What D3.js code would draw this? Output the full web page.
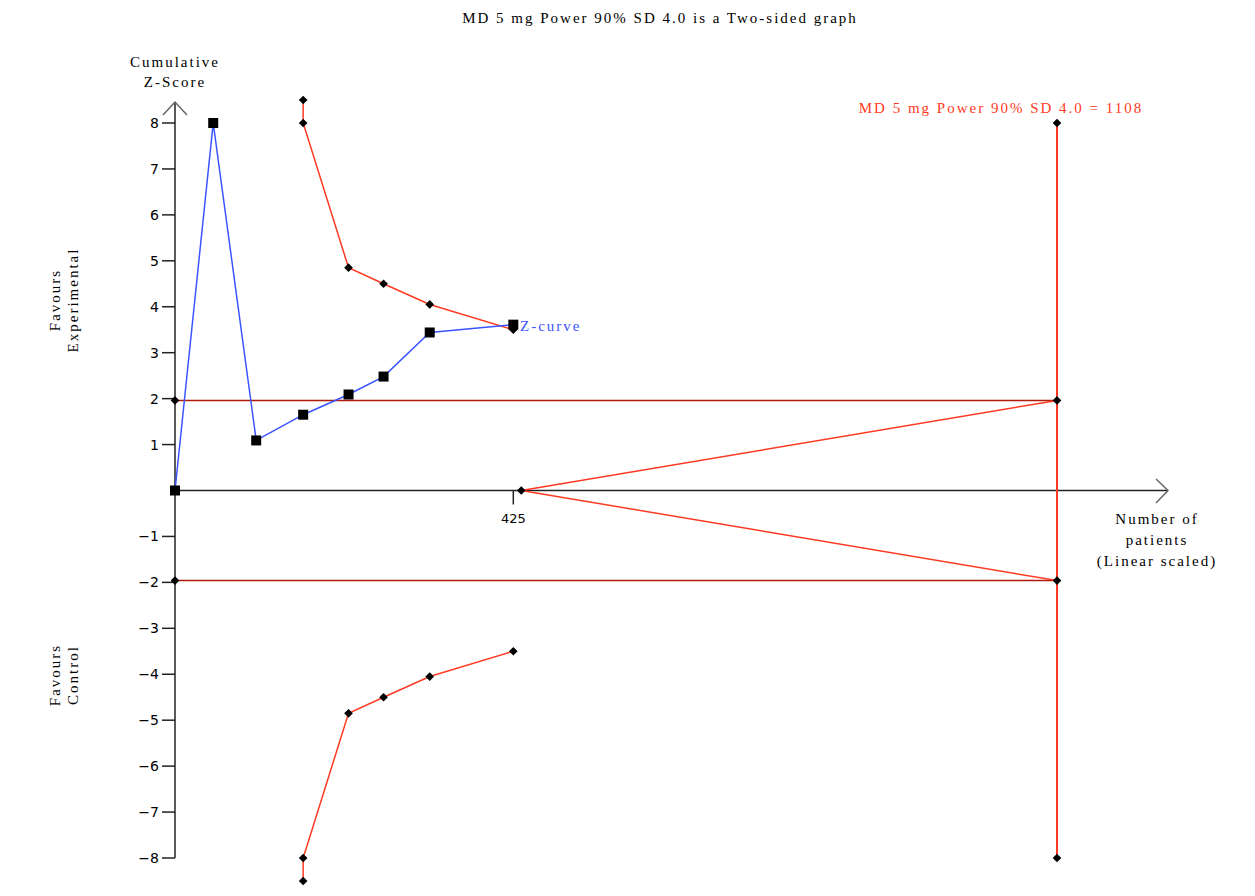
<!DOCTYPE html>
<html>
<head>
<meta charset="utf-8">
<script src="https://cdn.jsdelivr.net/npm/d3@7"></script>
<style>
  body { margin: 0; background: #fff; }
  text { font-family: "Liberation Serif", "DejaVu Serif", serif; }
  text.lbl { font-size: 15px; letter-spacing: 2px; }
</style>
</head>
<body>
<div id="chart"></div>
<script>
// cumulative z-curve (patients, z)
var zPatients = [0, 48, 102, 161, 218, 262, 320, 425];
var zScores   = [0, 8, 1.09, 1.65, 2.09, 2.48, 3.44, 3.61];

// monitoring boundary (upper, lower is the mirror)
var bPatients = [161, 161, 218, 262, 320, 425];
var bUpper    = [8.5, 8, 4.85, 4.5, 4.05, 3.5];

var requiredN = 1108;
var convZ = 1.96;
var futilityStart = 435;
var yTicks = [-8, -7, -6, -5, -4, -3, -2, -1, 1, 2, 3, 4, 5, 6, 7, 8];
var xTicks = [425];

var width = 1255, height = 896;
var svg = d3.select('#chart').append('svg')
    .attr('width', width)
    .attr('height', height);

var x = d3.scaleLinear().domain([0, requiredN]).range([175, 1057]);
var y = d3.scaleLinear().domain([-8, 8]).range([858, 123]);

var red = '#ff3a22', darkRed = '#b01a08', blue = '#3a55ff';

// title
svg.append('text')
    .attr('class', 'lbl')
    .attr('x', 660).attr('y', 23)
    .attr('text-anchor', 'middle')
    .text('MD 5 mg Power 90%  SD 4.0 is a Two-sided graph');

// y axis
var yAxis = svg.append('g');
yAxis.append('line')
    .attr('x1', x(0)).attr('x2', x(0))
    .attr('y1', y(-8)).attr('y2', 102)
    .attr('stroke', '#222').attr('stroke-width', 1.5);
yAxis.append('path')
    .attr('d', 'M' + (x(0) - 12) + ',115 L' + x(0) + ',102 L' + (x(0) + 12) + ',115')
    .attr('fill', 'none').attr('stroke', '#666').attr('stroke-width', 1.5);
yAxis.selectAll('line.tick')
    .data(yTicks).enter().append('line')
    .attr('class', 'tick')
    .attr('x1', x(0) - 13).attr('x2', x(0))
    .attr('y1', d => y(d)).attr('y2', d => y(d))
    .attr('stroke', '#222').attr('stroke-width', 1.5);
yAxis.selectAll('text')
    .data(yTicks).enter().append('text')
    .attr('x', x(0) - 16)
    .attr('y', d => y(d) + 5)
    .attr('text-anchor', 'end')
    .style('font-family', '"DejaVu Sans", sans-serif')
    .style('font-size', '14px')
    .text(d => d < 0 ? '\u2212' + Math.abs(d) : d);

svg.append('text')
    .attr('class', 'lbl')
    .attr('x', x(0)).attr('y', 67)
    .attr('text-anchor', 'middle')
    .text('Cumulative');
svg.append('text')
    .attr('class', 'lbl')
    .attr('x', x(0)).attr('y', 87)
    .attr('text-anchor', 'middle')
    .text('Z-Score');

// x axis
var xAxis = svg.append('g');
xAxis.append('line')
    .attr('x1', x(0)).attr('x2', 1168)
    .attr('y1', y(0)).attr('y2', y(0))
    .attr('stroke', '#222').attr('stroke-width', 1.5);
xAxis.append('path')
    .attr('d', 'M1156,479 L1168,' + y(0) + ' L1156,503')
    .attr('fill', 'none').attr('stroke', '#666').attr('stroke-width', 1.5);
xAxis.selectAll('line.tick')
    .data(xTicks).enter().append('line')
    .attr('x1', d => x(d)).attr('x2', d => x(d))
    .attr('y1', y(0)).attr('y2', y(0) + 14)
    .attr('stroke', '#222').attr('stroke-width', 1.5);
xAxis.selectAll('text')
    .data(xTicks).enter().append('text')
    .attr('x', d => x(d)).attr('y', 523)
    .attr('text-anchor', 'middle')
    .style('font-family', '"DejaVu Sans", sans-serif')
    .style('font-size', '13px')
    .text(d => d);

['Number of', 'patients', '(Linear scaled)'].forEach(function (t, i) {
    svg.append('text')
        .attr('class', 'lbl')
        .attr('x', 1157).attr('y', 524 + i * 21)
        .attr('text-anchor', 'middle')
        .text(t);
});

// side labels
function sideLabel(lines, cy) {
    lines.forEach(function (t, i) {
        svg.append('text')
            .attr('class', 'lbl')
            .attr('transform', 'translate(' + (60 + i * 18) + ',' + cy + ') rotate(-90)')
            .attr('text-anchor', 'middle')
            .text(t);
    });
}
sideLabel(['Favours', 'Experimental'], 300);
sideLabel(['Favours', 'Control'], 675);

// conventional boundaries
[convZ, -convZ].forEach(function (z) {
    svg.append('line')
        .attr('x1', x(0)).attr('x2', x(requiredN))
        .attr('y1', y(z)).attr('y2', y(z))
        .attr('stroke', darkRed).attr('stroke-width', 1.5);
});

// futility wedge
[convZ, -convZ].forEach(function (z) {
    svg.append('line')
        .attr('x1', x(futilityStart)).attr('y1', y(0))
        .attr('x2', x(requiredN)).attr('y2', y(z))
        .attr('stroke', red).attr('stroke-width', 1.5);
});

// required information size
svg.append('line')
    .attr('x1', x(requiredN)).attr('x2', x(requiredN))
    .attr('y1', y(8)).attr('y2', y(-8))
    .attr('stroke', red).attr('stroke-width', 2);
svg.append('text')
    .attr('class', 'lbl')
    .attr('x', 1001).attr('y', 113)
    .attr('text-anchor', 'middle')
    .attr('fill', red)
    .text('MD 5 mg Power 90%  SD 4.0 = 1108');

// monitoring boundaries
var line = d3.line().x(d => x(d[0])).y(d => y(d[1]));
var upper = bPatients.map((n, i) => [n, bUpper[i]]);
var lower = bPatients.map((n, i) => [n, -bUpper[i]]);
[upper, lower].forEach(function (pts) {
    svg.append('path')
        .attr('d', line(pts))
        .attr('fill', 'none').attr('stroke', red).attr('stroke-width', 1.5);
});

// diamonds
var diamonds = upper.concat(lower)
    .concat([[0, convZ], [0, -convZ], [requiredN, convZ], [requiredN, -convZ],
             [requiredN, 8], [requiredN, -8], [futilityStart, 0]]);
svg.append('g').selectAll('path')
    .data(diamonds).enter().append('path')
    .attr('d', d3.symbol().type(d3.symbolDiamond2).size(48))
    .attr('transform', d => 'translate(' + x(d[0]) + ',' + y(d[1]) + ')')
    .attr('fill', '#000');

// z-curve
var zPts = zPatients.map((n, i) => [n, zScores[i]]);
svg.append('path')
    .attr('d', line(zPts))
    .attr('fill', 'none').attr('stroke', blue).attr('stroke-width', 1.5);
svg.append('g').selectAll('rect')
    .data(zPts).enter().append('rect')
    .attr('x', d => x(d[0]) - 5).attr('y', d => y(d[1]) - 5)
    .attr('width', 10).attr('height', 10)
    .attr('fill', '#000');
svg.append('text')
    .attr('class', 'lbl')
    .attr('x', 520).attr('y', 331)
    .attr('fill', blue)
    .text('Z-curve');
</script>
</body>
</html>
